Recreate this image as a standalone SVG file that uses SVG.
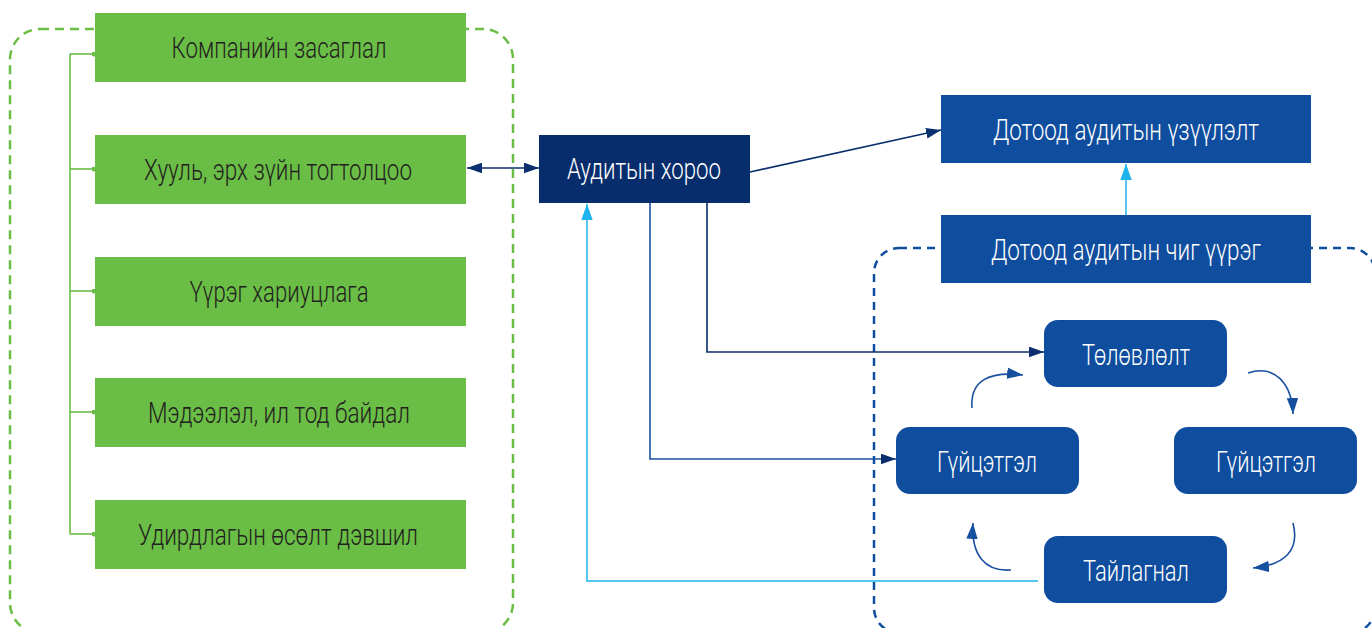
<svg xmlns="http://www.w3.org/2000/svg" width="1372" height="628" viewBox="0 0 1372 628">
<style>
  .green { fill: #6abd45; }
  .navy { fill: #082d6c; }
  .blue { fill: #0f4d9e; }
  .t { font-family: Roboto, "Liberation Sans", "DejaVu Sans", sans-serif; font-size: 29px; font-weight: 300; text-anchor: middle; }
  .tg { fill: #231f20; }
  .tw { fill: #ffffff; }
  .frame-g { fill: none; stroke: #6abd45; stroke-width: 2.5; stroke-dasharray: 9 6; }
  .frame-b { fill: none; stroke: #0f4d9e; stroke-width: 2.5; stroke-dasharray: 8 6; }
  .c-green { fill: none; stroke: #6abd45; stroke-width: 1.6; }
  .c-navy { fill: none; stroke: #0b2f6e; stroke-width: 1.6; }
  .c-blue { fill: none; stroke: #1a50a0; stroke-width: 1.6; }
  .c-cyan { fill: none; stroke: #1cb4ec; stroke-width: 1.5; }
</style>
<defs>
  <marker id="aNavy" viewBox="0 0 14 10" refX="14" refY="5" markerWidth="15" markerHeight="11" markerUnits="userSpaceOnUse" orient="auto-start-reverse">
    <path d="M0,0 L14,5 L0,10 z" fill="#0b2f6e"/>
  </marker>
  <marker id="aBlue" viewBox="0 0 14 10" refX="14" refY="5" markerWidth="16" markerHeight="12" markerUnits="userSpaceOnUse" orient="auto">
    <path d="M0,0 L14,5 L0,10 z" fill="#1550a0"/>
  </marker>
  <marker id="aCyan" viewBox="0 0 14 10" refX="14" refY="5" markerWidth="16" markerHeight="12" markerUnits="userSpaceOnUse" orient="auto">
    <path d="M0,0 L14,5 L0,10 z" fill="#1cb4ec"/>
  </marker>
  <marker id="dotG" viewBox="0 0 6 6" refX="3" refY="3" markerWidth="5" markerHeight="5" markerUnits="userSpaceOnUse">
    <circle cx="3" cy="3" r="3" fill="#6abd45"/>
  </marker>
</defs>

<rect id="frame-green" class="frame-g" x="10" y="29" width="503" height="604" rx="30"/>
<rect id="frame-blue" class="frame-b" x="874" y="248" width="501" height="385" rx="25"/>

<g id="connectors">
  <path class="c-green" d="M70,54 V534"/>
  <path class="c-green" d="M70,54 H94" marker-end="url(#dotG)"/>
  <path class="c-green" d="M70,169 H94" marker-end="url(#dotG)"/>
  <path class="c-green" d="M70,291 H94" marker-end="url(#dotG)"/>
  <path class="c-green" d="M70,412 H94" marker-end="url(#dotG)"/>
  <path class="c-green" d="M70,534 H94" marker-end="url(#dotG)"/>
  <path class="c-navy" d="M467,168 H539" marker-start="url(#aNavy)" marker-end="url(#aNavy)"/>
  <path class="c-navy" d="M750,172 L941,130" marker-end="url(#aNavy)"/>
  <path class="c-navy" d="M707,203 V352 H1044" marker-end="url(#aNavy)"/>
  <path class="c-blue" d="M650,203 V459 H896" marker-end="url(#aNavy)"/>
  <path class="c-cyan" d="M1038,581 H587 V204" marker-end="url(#aCyan)"/>
  <path class="c-cyan" d="M1126,215 V164" marker-end="url(#aCyan)"/>
  <path class="c-blue" d="M972,408 C970,381 988,371 1023,375" marker-end="url(#aBlue)"/>
  <path class="c-blue" d="M1248,373 C1275,364 1292,384 1293,414" marker-end="url(#aBlue)"/>
  <path class="c-blue" d="M1293,523 C1300,550 1285,565 1253,568" marker-end="url(#aBlue)"/>
  <path class="c-blue" d="M1011,570 C985,572 971,555 973,523" marker-end="url(#aBlue)"/>
</g>

<g id="n-company">
  <rect class="green" x="95" y="13" width="371" height="69"/>
  <text class="t tg" x="279" y="58" textLength="215" lengthAdjust="spacingAndGlyphs">Компанийн засаглал</text>
</g>
<g id="n-law">
  <rect class="green" x="95" y="135" width="371" height="69"/>
  <text class="t tg" x="278" y="180" textLength="268" lengthAdjust="spacingAndGlyphs">Хууль, эрх зүйн тогтолцоо</text>
</g>
<g id="n-resp">
  <rect class="green" x="95" y="257" width="371" height="69"/>
  <text class="t tg" x="279" y="302" textLength="179" lengthAdjust="spacingAndGlyphs">Үүрэг хариуцлага</text>
</g>
<g id="n-info">
  <rect class="green" x="95" y="378" width="371" height="69"/>
  <text class="t tg" x="279" y="423" textLength="262" lengthAdjust="spacingAndGlyphs">Мэдээлэл, ил тод байдал</text>
</g>
<g id="n-mgmt">
  <rect class="green" x="95" y="500" width="371" height="69"/>
  <text class="t tg" x="278" y="545" textLength="280" lengthAdjust="spacingAndGlyphs">Удирдлагын өсөлт дэвшил</text>
</g>

<g id="n-audit">
  <rect class="navy" x="539" y="135" width="211" height="68"/>
  <text class="t tw" x="644" y="179" textLength="154" lengthAdjust="spacingAndGlyphs">Аудитын хороо</text>
</g>
<g id="n-indicators">
  <rect class="blue" x="941" y="95" width="370" height="68"/>
  <text class="t tw" x="1126" y="140" textLength="266" lengthAdjust="spacingAndGlyphs">Дотоод аудитын үзүүлэлт</text>
</g>
<g id="n-function">
  <rect class="blue" x="941" y="215" width="370" height="68"/>
  <text class="t tw" x="1126" y="260" textLength="270" lengthAdjust="spacingAndGlyphs">Дотоод аудитын чиг үүрэг</text>
</g>
<g id="n-plan">
  <rect class="blue" x="1044" y="320" width="183" height="67" rx="14"/>
  <text class="t tw" x="1136" y="365" textLength="108" lengthAdjust="spacingAndGlyphs">Төлөвлөлт</text>
</g>
<g id="n-exec-left">
  <rect class="blue" x="896" y="427" width="183" height="67" rx="14"/>
  <text class="t tw" x="987" y="472" textLength="100" lengthAdjust="spacingAndGlyphs">Гүйцэтгэл</text>
</g>
<g id="n-exec-right">
  <rect class="blue" x="1174" y="427" width="183" height="67" rx="14"/>
  <text class="t tw" x="1266" y="472" textLength="100" lengthAdjust="spacingAndGlyphs">Гүйцэтгэл</text>
</g>
<g id="n-report">
  <rect class="blue" x="1044" y="536" width="183" height="67" rx="14"/>
  <text class="t tw" x="1136" y="581" textLength="106" lengthAdjust="spacingAndGlyphs">Тайлагнал</text>
</g>
</svg>
